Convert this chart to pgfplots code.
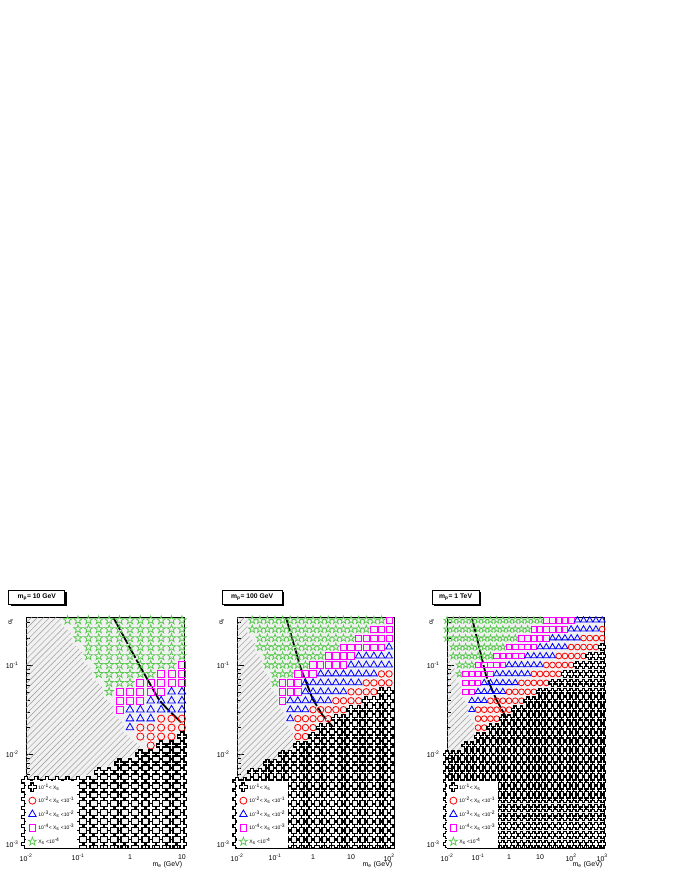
\documentclass[border=0pt]{standalone}
\usepackage{fontspec}
\setmainfont{Liberation Sans}
\setsansfont{Liberation Sans}
\usepackage{pgfplots}
\pgfplotsset{compat=1.18}
\usepackage{pgfplotstable}
\usetikzlibrary{patterns.meta,shadows}

\definecolor{bgc}{gray}{0.945}
\definecolor{hatchc}{gray}{0.6}
\definecolor{cgreen}{RGB}{85,200,75}
\definecolor{cred}{RGB}{255,0,0}
\definecolor{cblue}{RGB}{0,0,255}
\definecolor{cmag}{RGB}{255,0,255}

\pgfdeclareplotmark{ocross}{%
 \pgfpathmoveto{\pgfqpoint{-0.35\pgfplotmarksize}{\pgfplotmarksize}}%
 \pgfpathlineto{\pgfqpoint{0.35\pgfplotmarksize}{\pgfplotmarksize}}%
 \pgfpathlineto{\pgfqpoint{0.35\pgfplotmarksize}{0.35\pgfplotmarksize}}%
 \pgfpathlineto{\pgfqpoint{\pgfplotmarksize}{0.35\pgfplotmarksize}}%
 \pgfpathlineto{\pgfqpoint{\pgfplotmarksize}{-0.35\pgfplotmarksize}}%
 \pgfpathlineto{\pgfqpoint{0.35\pgfplotmarksize}{-0.35\pgfplotmarksize}}%
 \pgfpathlineto{\pgfqpoint{0.35\pgfplotmarksize}{-\pgfplotmarksize}}%
 \pgfpathlineto{\pgfqpoint{-0.35\pgfplotmarksize}{-\pgfplotmarksize}}%
 \pgfpathlineto{\pgfqpoint{-0.35\pgfplotmarksize}{-0.35\pgfplotmarksize}}%
 \pgfpathlineto{\pgfqpoint{-\pgfplotmarksize}{-0.35\pgfplotmarksize}}%
 \pgfpathlineto{\pgfqpoint{-\pgfplotmarksize}{0.35\pgfplotmarksize}}%
 \pgfpathlineto{\pgfqpoint{-0.35\pgfplotmarksize}{0.35\pgfplotmarksize}}%
 \pgfpathclose\pgfusepathqfillstroke}
\pgfdeclareplotmark{ostar}{%
 \pgfpathmoveto{\pgfqpoint{0pt}{\pgfplotmarksize}}%
 \pgfpathlineto{\pgfqpoint{-0.225\pgfplotmarksize}{0.309\pgfplotmarksize}}%
 \pgfpathlineto{\pgfqpoint{-0.951\pgfplotmarksize}{0.309\pgfplotmarksize}}%
 \pgfpathlineto{\pgfqpoint{-0.363\pgfplotmarksize}{-0.118\pgfplotmarksize}}%
 \pgfpathlineto{\pgfqpoint{-0.588\pgfplotmarksize}{-0.809\pgfplotmarksize}}%
 \pgfpathlineto{\pgfqpoint{0pt}{-0.382\pgfplotmarksize}}%
 \pgfpathlineto{\pgfqpoint{0.588\pgfplotmarksize}{-0.809\pgfplotmarksize}}%
 \pgfpathlineto{\pgfqpoint{0.363\pgfplotmarksize}{-0.118\pgfplotmarksize}}%
 \pgfpathlineto{\pgfqpoint{0.951\pgfplotmarksize}{0.309\pgfplotmarksize}}%
 \pgfpathlineto{\pgfqpoint{0.225\pgfplotmarksize}{0.309\pgfplotmarksize}}%
 \pgfpathclose\pgfusepathqstroke}

% log10(alpha_s) rows, class of each m column (log10 m = -2.0, -1.8, ...)
% k: 1e-1<X, r: 1e-2..1e-1, b: 1e-3..1e-2, m: 1e-4..1e-3, g: X<1e-4, n: none
\pgfplotstableread{
la c0 c1 c2 c3 c4 c5 c6 c7 c8 c9 c10 c11 c12 c13 c14 c15
-0.5 n n n n g g g g g g g g g g g g
-0.6 n n n n n g g g g g g g g g g g
-0.7 n n n n n g g g g g g g g g g g
-0.8 n n n n n n g g g g g g g g g g
-0.9 n n n n n n g g g g g g g g g g
-1.0 n n n n n n n g g g g g g g g m
-1.1 n n n n n n n g g g g g g m m m
-1.2 n n n n n n n n g g g m m m m m
-1.3 n n n n n n n n g m m m m m b b
-1.4 n n n n n n n n n m m m b b b b
-1.5 n n n n n n n n n m b b b b b b
-1.6 n n n n n n n n n n b b b r r r
-1.7 n n n n n n n n n n b r r r r r
-1.8 n n n n n n n n n n n r r r r k
-1.9 n n n n n n n n n n n n r k k k
-2.0 n n n n n n n n n n n k k k k k
-2.1 n n n n n n n n n k k k k k k k
-2.2 n n n n n n n k k k k k k k k k
-2.3 k k k k k k k k k k k k k k k k
-2.4 k k k k k k k k k k k k k k k k
-2.5 k k k k k k k k k k k k k k k k
-2.6 k k k k k k k k k k k k k k k k
-2.7 k k k k k k k k k k k k k k k k
-2.8 k k k k k k k k k k k k k k k k
-2.9 k k k k k k k k k k k k k k k k
-3.0 k k k k k k k k k k k k k k k k
}\tabA
\pgfplotstableread{
la c0 c1 c2 c3 c4 c5 c6 c7 c8 c9 c10 c11 c12 c13 c14 c15 c16 c17 c18 c19 c20
-0.5 n n g g g g g g g g g g g g g g g g g g m
-0.6 n n g g g g g g g g g g g g g g g g m m m
-0.7 n n n g g g g g g g g g g g g g m m m m m
-0.8 n n n g g g g g g g g g g g m m m m m m b
-0.9 n n n n g g g g g g g g m m m m b b b b b
-1.0 n n n n g g g g g g m m m m m b b b b b b
-1.1 n n n n n g g g m m m b b b b b b b b r r
-1.2 n n n n n g m m m b b b b b b b b r r r r
-1.3 n n n n n n m m m b b b b b b r r r r k k
-1.4 n n n n n n m b b b b b b r r r r k k k k
-1.5 n n n n n n n b b b r r r r r k k k k k k
-1.6 n n n n n n n b r r r r r k k k k k k k k
-1.7 n n n n n n n n r r r k k k k k k k k k k
-1.8 n n n n n n n n r r k k k k k k k k k k k
-1.9 n n n n n n n n k k k k k k k k k k k k k
-2.0 n n n n n n k k k k k k k k k k k k k k k
-2.1 n n n n k k k k k k k k k k k k k k k k k
-2.2 n n k k k k k k k k k k k k k k k k k k k
-2.3 k k k k k k k k k k k k k k k k k k k k k
-2.4 k k k k k k k k k k k k k k k k k k k k k
-2.5 k k k k k k k k k k k k k k k k k k k k k
-2.6 k k k k k k k k k k k k k k k k k k k k k
-2.7 k k k k k k k k k k k k k k k k k k k k k
-2.8 k k k k k k k k k k k k k k k k k k k k k
-2.9 k k k k k k k k k k k k k k k k k k k k k
-3.0 k k k k k k k k k k k k k k k k k k k k k
}\tabB
\pgfplotstableread{
la c0 c1 c2 c3 c4 c5 c6 c7 c8 c9 c10 c11 c12 c13 c14 c15 c16 c17 c18 c19 c20 c21 c22 c23 c24 c25
-0.5 g g g g g g g g g g g g g g g g m m m m m b b b b b
-0.6 g g g g g g g g g g g g g g m m m m m m b b b b b r
-0.7 g g g g g g g g g g g g m m m m m b b b b b r r r r
-0.8 n g g g g g g g g g m m m m m b b b b b r r r r r k
-0.9 n g g g g g g g m m m m m b b b b b r r r r r k k k
-1.0 n n g g g m m m m m b b b b b b r r r r r k k k k k
-1.1 n n g m m m m m b b b b b b r r r r r k k k k k k k
-1.2 n n n m m m b b b b b b r r r r r k k k k k k k k k
-1.3 n n n m m b b b b b r r r r r k k k k k k k k k k k
-1.4 n n n n b b b r r r r r r k k k k k k k k k k k k k
-1.5 n n n n b r r r r r r k k k k k k k k k k k k k k k
-1.6 n n n n n r r r r k k k k k k k k k k k k k k k k k
-1.7 n n n n n r r k k k k k k k k k k k k k k k k k k k
-1.8 n n n n n k k k k k k k k k k k k k k k k k k k k k
-1.9 n n n k k k k k k k k k k k k k k k k k k k k k k k
-2.0 k k k k k k k k k k k k k k k k k k k k k k k k k k
-2.1 k k k k k k k k k k k k k k k k k k k k k k k k k k
-2.2 k k k k k k k k k k k k k k k k k k k k k k k k k k
-2.3 k k k k k k k k k k k k k k k k k k k k k k k k k k
-2.4 k k k k k k k k k k k k k k k k k k k k k k k k k k
-2.5 k k k k k k k k k k k k k k k k k k k k k k k k k k
-2.6 k k k k k k k k k k k k k k k k k k k k k k k k k k
-2.7 k k k k k k k k k k k k k k k k k k k k k k k k k k
-2.8 k k k k k k k k k k k k k k k k k k k k k k k k k k
-2.9 k k k k k k k k k k k k k k k k k k k k k k k k k k
-3.0 k k k k k k k k k k k k k k k k k k k k k k k k k k
}\tabC

\pgfplotsset{
 msc/.style={scatter, only marks, forget plot, scatter src=explicit symbolic,
  scatter/classes={
   n={mark=o, draw=none, mark size=0pt},
   k={mark=ocross, mark size=#1*4.5bp, draw=black, fill=white, line width=1.35bp},
   r={mark=o, mark size=#1*3.6bp, draw=cred, line width=0.8bp},
   b={mark=triangle, mark size=#1*4.4bp, draw=cblue, line width=0.8bp},
   m={mark=square, mark size=#1*3.5bp, draw=cmag, line width=0.8bp},
   g={mark=ostar, mark size=#1*4.5bp, draw=cgreen, line width=0.7bp}}},
 hatchsty/.style={forget plot, draw=none, pattern={Lines[angle=45,distance=4.3bp,line width=0.45bp]}, pattern color=hatchc},
 curvesty/.style={forget plot, black, line width=1.8bp, dash pattern=on 14bp off 2bp},
 rootax/.style={scale only axis, height=231bp, ymin=-3.045, ymax=-0.464,
  axis background/.style={fill=bgc}, axis line style={line width=0.9bp},
  tick align=inside, xtick pos=left, ytick pos=left,
  major tick length=7bp, minor tick length=3.5bp, every tick/.style={black, line width=0.5bp},
  ytick={-3,-2,-1}, yticklabels={10\textsuperscript{-3},10\textsuperscript{-2},10\textsuperscript{-1}},
  minor ytick={-2.699,-2.523,-2.398,-2.301,-2.222,-2.155,-2.097,-2.046,-1.699,-1.523,-1.398,-1.301,-1.222,-1.155,-1.097,-1.046,-0.699,-0.523},
  xticklabel style={font=\fontsize{7}{8}\selectfont, yshift=-3bp},
  yticklabel style={font=\fontsize{7}{8}\selectfont, xshift=-4bp},
  clip=false,
  ylabel={α\textsubscript{s}},
  ylabel style={at={(rel axis cs:-0.082,0.995)}, anchor=south east, inner sep=0pt, font=\fontsize{6.5}{7}\selectfont},
  xlabel={m\textsubscript{e} (GeV)},
  xlabel style={at={(rel axis cs:0.99,0)}, anchor=north east, yshift=-13bp, inner sep=0pt, font=\fontsize{7}{8}\selectfont},
  legend style={at={(rel axis cs:0,0)}, anchor=south west, draw=none, fill=white, inner xsep=2bp, inner ysep=2bp, row sep=5bp, column sep=1bp, font=\fontsize{5}{6}\selectfont, nodes={inner sep=0.8bp}},
  legend cell align=left,
  legend image code/.code={\draw[##1] plot coordinates {(0bp,0bp)};}
 }
}

\newcommand\legendstuff{%
 \addlegendimage{only marks, mark=ocross, mark size=4.2bp, draw=black, fill=white, line width=1.2bp}
 \addlegendentry{10\textsuperscript{-1}< X\textsubscript{s}}
 \addlegendimage{only marks, mark=o, mark size=3.5bp, draw=cred, line width=0.8bp}
 \addlegendentry{10\textsuperscript{-2}< X\textsubscript{s} <10\textsuperscript{-1}}
 \addlegendimage{only marks, mark=triangle, mark size=4.3bp, draw=cblue, line width=0.8bp}
 \addlegendentry{10\textsuperscript{-3}< X\textsubscript{s} <10\textsuperscript{-2}}
 \addlegendimage{only marks, mark=square, mark size=3.4bp, draw=cmag, line width=0.8bp}
 \addlegendentry{10\textsuperscript{-4}< X\textsubscript{s} <10\textsuperscript{-3}}
 \addlegendimage{only marks, mark=ostar, mark size=4.4bp, draw=cgreen, line width=0.7bp}
 \addlegendentry{X\textsubscript{s} <10\textsuperscript{-4}}
}

\tikzset{titlebox/.style={anchor=north west, draw=black, fill=white, line width=0.8bp, minimum height=14bp, inner sep=0pt,
  font=\bfseries\fontsize{6.8}{7}\selectfont,
  drop shadow={shadow xshift=2bp, shadow yshift=-2bp, opacity=1, fill=black}}}

\begin{document}
\begin{tikzpicture}
\useasboundingbox (0bp,0bp) rectangle (680bp,880bp);

\node[titlebox, minimum width=56bp] at (8.3bp,290bp) {m\textsubscript{p}= 10 GeV};
\node[titlebox, minimum width=60bp] at (221.7bp,290bp) {m\textsubscript{p}= 100 GeV};
\node[titlebox, minimum width=47bp] at (431.7bp,290bp) {m\textsubscript{p}= 1 TeV};

% ---------------- panel 1 ----------------
\begin{axis}[rootax, at={(26bp,32bp)}, anchor=south west, width=158bp,
  xmin=-2, xmax=1.04, xtick={-2,-1,0,1},
  xticklabels={10\textsuperscript{-2},10\textsuperscript{-1},1,10},
  minor xtick={-1.699,-1.523,-1.398,-1.301,-1.222,-1.155,-1.097,-1.046,-0.699,-0.523,-0.398,-0.301,-0.222,-0.155,-0.097,-0.046,0.301,0.477,0.602,0.699,0.778,0.845,0.903,0.954}]
\addplot[hatchsty] coordinates {(-2,-0.464) (-1.32,-0.464) (-1.32,-0.55) (-1.12,-0.65) (-1.12,-0.75) (-0.92,-0.85) (-0.92,-0.95) (-0.72,-1.05) (-0.72,-1.15) (-0.52,-1.25) (-0.52,-1.35) (-0.32,-1.45) (-0.32,-1.55) (-0.12,-1.65) (-0.12,-1.75) (0.08,-1.85) (0.22,-1.92) (0.08,-2.0) (-0.32,-2.1) (-0.72,-2.2) (-1.12,-2.3) (-2,-2.3)} -- cycle;
\foreach \k/\lm in {0/-2.0,1/-1.8,2/-1.6,3/-1.4,4/-1.2,5/-1.0,6/-0.8,7/-0.6,8/-0.4,9/-0.2,10/0.0,11/0.2,12/0.4,13/0.6,14/0.8,15/1.0}{
  \edef\tmp{\noexpand\addplot[msc=1] table[x expr=\lm, y=la, meta=c\k] {\noexpand\tabA};}\tmp}
\addplot[curvesty] coordinates {(-0.32,-0.47) (0.18,-1.0) (0.56,-1.39) (0.70,-1.48) (0.98,-1.64)};
\legendstuff
\end{axis}

% ---------------- panel 2 ----------------
\begin{axis}[rootax, at={(237bp,32bp)}, anchor=south west, width=157bp,
  xmin=-2, xmax=2.13, xtick={-2,-1,0,1,2},
  xticklabels={10\textsuperscript{-2},10\textsuperscript{-1},1,10,10\textsuperscript{2}},
  minor xtick={-1.699,-1.523,-1.398,-1.301,-1.222,-1.155,-1.097,-1.046,-0.699,-0.523,-0.398,-0.301,-0.222,-0.155,-0.097,-0.046,0.301,0.477,0.602,0.699,0.778,0.845,0.903,0.954,1.301,1.477,1.602,1.699,1.778,1.845,1.903,1.954}]
\addplot[hatchsty] coordinates {(-2,-0.464) (-1.73,-0.464) (-1.73,-0.65) (-1.53,-0.75) (-1.53,-0.85) (-1.33,-0.95) (-1.33,-1.05) (-1.13,-1.15) (-1.13,-1.25) (-0.93,-1.35) (-0.93,-1.45) (-0.73,-1.55) (-0.73,-1.65) (-0.53,-1.75) (-0.53,-1.95) (-0.93,-2.05) (-1.33,-2.15) (-1.73,-2.25) (-2,-2.3)} -- cycle;
\foreach \k/\lm in {0/-2.0,1/-1.8,2/-1.6,3/-1.4,4/-1.2,5/-1.0,6/-0.8,7/-0.6,8/-0.4,9/-0.2,10/0.0,11/0.2,12/0.4,13/0.6,14/0.8,15/1.0,16/1.2,17/1.4,18/1.6,19/1.8,20/2.0}{
  \edef\tmp{\noexpand\addplot[msc=0.9] table[x expr=\lm, y=la, meta=c\k] {\noexpand\tabB};}\tmp}
\addplot[curvesty] coordinates {(-0.71,-0.47) (-0.32,-1.04) (-0.01,-1.38) (0.25,-1.56) (0.56,-1.71)};
\legendstuff
\end{axis}

% ---------------- panel 3 ----------------
\begin{axis}[rootax, at={(447bp,32bp)}, anchor=south west, width=157bp,
  xmin=-2, xmax=3.06, xtick={-2,-1,0,1,2,3},
  xticklabels={10\textsuperscript{-2},10\textsuperscript{-1},1,10,10\textsuperscript{2},10\textsuperscript{3}},
  minor xtick={-1.699,-1.523,-1.398,-1.301,-1.222,-1.155,-1.097,-1.046,-0.699,-0.523,-0.398,-0.301,-0.222,-0.155,-0.097,-0.046,0.301,0.477,0.602,0.699,0.778,0.845,0.903,0.954,1.301,1.477,1.602,1.699,1.778,1.845,1.903,1.954,2.301,2.477,2.602,2.699,2.778,2.845,2.903,2.954}]
\addplot[hatchsty] coordinates {(-2,-0.75) (-1.93,-0.85) (-1.93,-0.95) (-1.73,-1.05) (-1.73,-1.15) (-1.53,-1.25) (-1.53,-1.35) (-1.33,-1.45) (-1.33,-1.55) (-1.13,-1.65) (-1.13,-1.85) (-1.53,-1.95) (-2,-2.0)} -- cycle;
\foreach \k/\lm in {0/-2.0,1/-1.8,2/-1.6,3/-1.4,4/-1.2,5/-1.0,6/-0.8,7/-0.6,8/-0.4,9/-0.2,10/0.0,11/0.2,12/0.4,13/0.6,14/0.8,15/1.0,16/1.2,17/1.4,18/1.6,19/1.8,20/2.0,21/2.2,22/2.4,23/2.6,24/2.8,25/3.0}{
  \edef\tmp{\noexpand\addplot[msc=0.8] table[x expr=\lm, y=la, meta=c\k] {\noexpand\tabC};}\tmp}
\addplot[curvesty] coordinates {(-1.19,-0.48) (-0.74,-1.12) (-0.42,-1.38) (-0.04,-1.62)};
\legendstuff
\end{axis}
\end{tikzpicture}
\end{document}
